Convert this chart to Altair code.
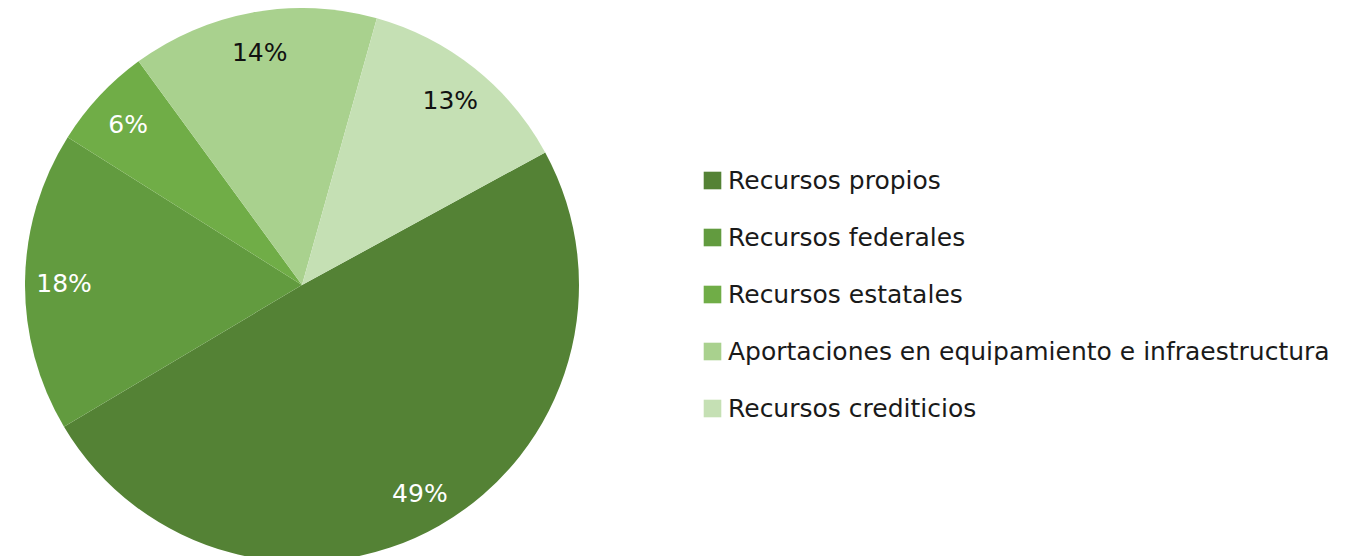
import math
import altair as alt
import pandas as pd

categories = [
    "Recursos propios",
    "Recursos federales",
    "Recursos estatales",
    "Aportaciones en equipamiento e infraestructura",
    "Recursos crediticios",
]
values = [49.4, 17.5, 6.0, 14.4, 12.7]
labels = ["49%", "18%", "6%", "14%", "13%"]
dark_label = [1, 1, 1, 0, 0]
colors = ["#548235", "#629B3F", "#70AD47", "#A9D18E", "#C5E0B4"]

df = pd.DataFrame({
    "cat": categories,
    "value": values,
    "label": labels,
    "dark": dark_label,
    "ord": list(range(len(categories))),
})

start = math.radians(61.4)
FONT = "DejaVu Sans"

base = alt.Chart(df).encode(
    theta=alt.Theta("value:Q", stack=True,
                    scale=alt.Scale(range=[start, start + 2 * math.pi])),
    order=alt.Order("ord:Q", sort="ascending"),
)

cx, cy, R = 294, 277, 277

arcs = base.mark_arc(outerRadius=R, strokeWidth=0).encode(
    x=alt.value(cx),
    y=alt.value(cy),
    color=alt.Color(
        "cat:N",
        scale=alt.Scale(domain=categories, range=colors),
        sort=categories,
        legend=alt.Legend(
            title=None,
            orient="none",
            legendX=692,
            legendY=160,
            symbolType="square",
            symbolSize=310,
            symbolStrokeWidth=0,
            labelFont=FONT,
            labelFontSize=25,
            labelColor="#1a1a1a",
            labelLimit=1000,
            labelOffset=3,
            rowPadding=31,
        ),
    ),
)

texts = base.mark_text(radius=238, font=FONT, fontSize=25, dy=2).encode(
    x=alt.value(cx),
    y=alt.value(cy),
    text="label:N",
    detail="cat:N",
    color=alt.condition(alt.datum.dark == 1, alt.value("#ffffff"), alt.value("#111111")),
)

chart = (
    alt.layer(arcs, texts)
    .properties(width=1336, height=548, padding=0, autosize="none")
    .configure(background="#ffffff")
    .configure_view(stroke=None)
)

chart.save("out.html", embed_options={"renderer": "svg", "actions": False})
